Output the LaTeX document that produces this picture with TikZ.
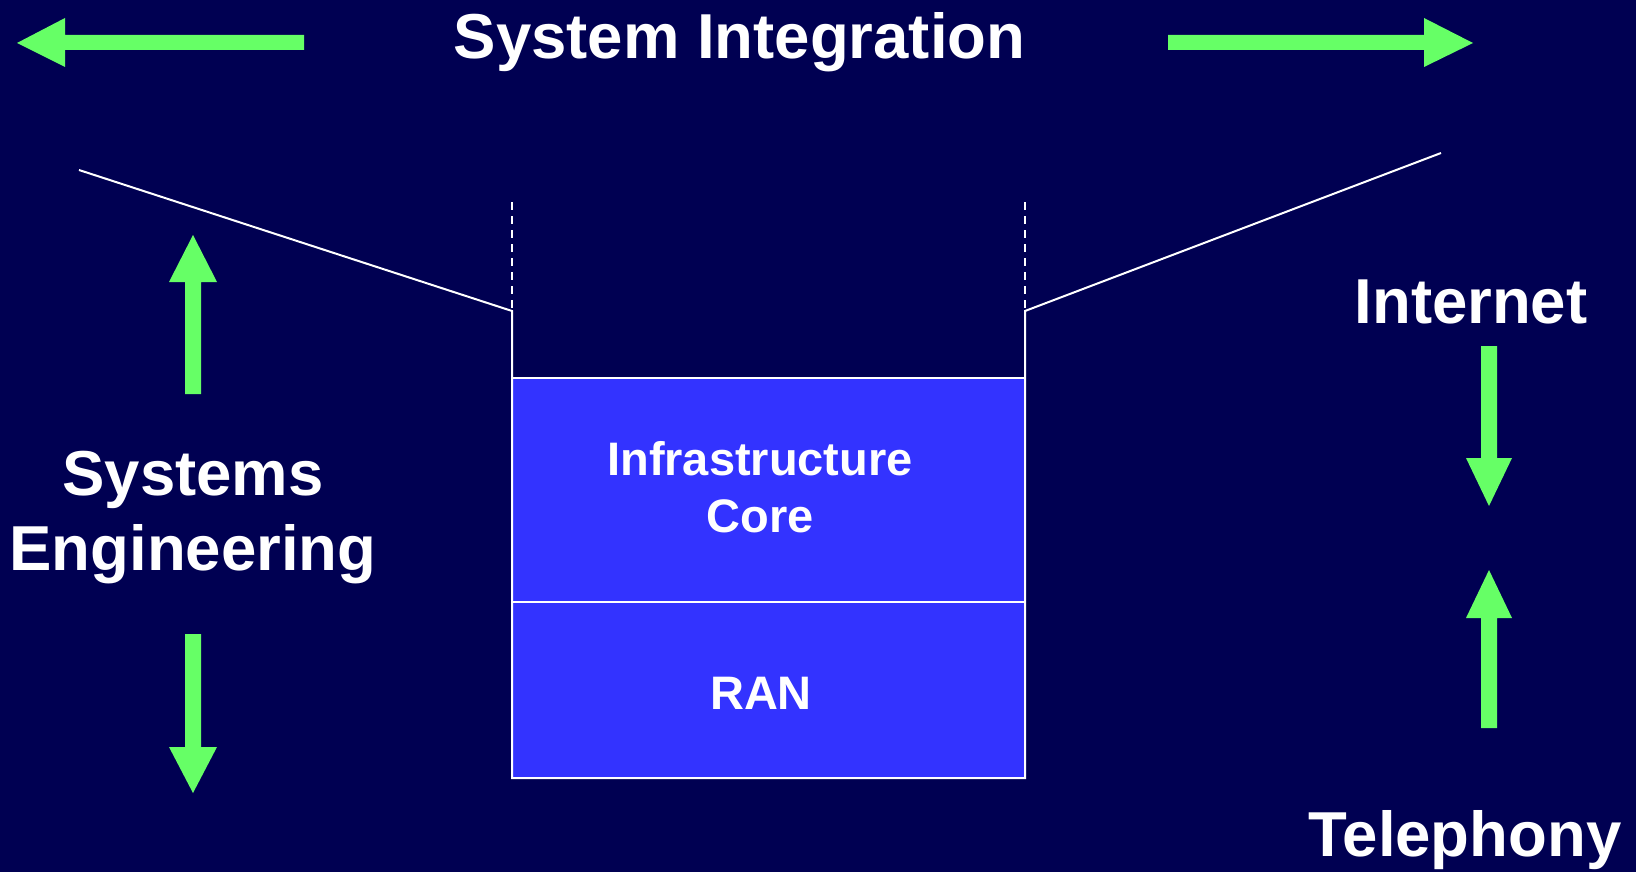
\documentclass[tikz,border=0pt]{standalone}
\usepackage{fontspec}
\setmainfont{Liberation Sans}
\definecolor{bgnavy}{RGB}{0,0,82}
\definecolor{arrowgreen}{RGB}{102,255,102}
\definecolor{boxblue}{RGB}{51,51,255}
\tikzset{
  bigtext/.style={text=white, font=\bfseries\fontsize{63.5}{76}\selectfont, inner sep=0pt, anchor=base},
  boxtext/.style={text=white, font=\bfseries\fontsize{47}{56}\selectfont, inner sep=0pt, anchor=base},
  garrow/.style={fill=arrowgreen, draw=none},
  wline/.style={draw=white, line width=2pt},
  wdash/.style={draw=white, line width=2pt, dash pattern=on 8pt off 6pt}
}
\begin{document}
\begin{tikzpicture}[x=1pt, y=-1pt]
\fill[bgnavy] (0,0) rectangle (1636,872);
\useasboundingbox (0,0) rectangle (1636,872);

% top arrows
\fill[garrow] (304,35) -- (65,35) -- (65,18) -- (17,43) -- (65,67) -- (65,50) -- (304,50) -- cycle;
\fill[garrow] (1168,35) -- (1424,35) -- (1424,18) -- (1473,43) -- (1424,67) -- (1424,50) -- (1168,50) -- cycle;

% left arrows
\fill[garrow] (185,394) -- (185,282) -- (169,282) -- (193,235) -- (217,282) -- (201,282) -- (201,394) -- cycle;
\fill[garrow] (185,634) -- (185,747) -- (169,747) -- (193,793) -- (217,747) -- (201,747) -- (201,634) -- cycle;

% right arrows
\fill[garrow] (1481,346) -- (1481,458) -- (1466,458) -- (1489,506) -- (1512,458) -- (1497,458) -- (1497,346) -- cycle;
\fill[garrow] (1481,728) -- (1481,618) -- (1466,618) -- (1489,570) -- (1512,618) -- (1497,618) -- (1497,728) -- cycle;

% box
\coordinate (lt) at (79,170);
\coordinate (lb) at (512,311);
\coordinate (rb) at (1025,311);
\coordinate (rt) at (1441,153);
\coordinate (ld) at (512,202);
\coordinate (rd) at (1025,202);
\fill[boxblue] (512,378) rectangle (1025,778);
\draw[wline] (512,378) -- (1025,378);
\draw[wline] (512,602) -- (1025,602);
\draw[wline, line join=miter] (lt) -- (lb) -- (512,778) -- (1025,778) -- (rb) -- (rt);
\draw[wdash] (ld) -- (512,322);
\draw[wdash] (rd) -- (1025,322);

% texts
\node[bigtext] (sysint) at (739.5,59) {System Integration};
\node[bigtext] (se1) at (193,495) {Systems};
\node[bigtext] (se2) at (193,570) {Engineering};
\node[bigtext] (inet) at (1471,323) {Internet};
\node[bigtext] (tel) at (1465,856) {Telephony};
\node[boxtext] (ic1) at (760,475) {Infrastructure};
\node[boxtext] (ic2) at (760,532) {Core};
\node[boxtext] (ran) at (761,709) {RAN};
\end{tikzpicture}
\end{document}
